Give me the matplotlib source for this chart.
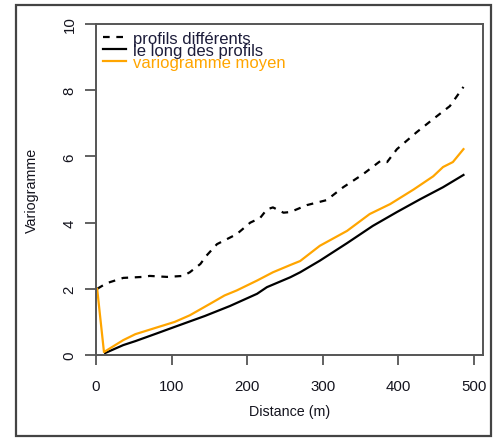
import matplotlib
matplotlib.use("Agg")
import matplotlib.pyplot as plt
from matplotlib.patches import Rectangle

plt.rcParams['font.family'] = ['Liberation Sans', 'DejaVu Sans']

# variogramme entre profils différents (tirets)
dist_diff = [1.5, 14, 36, 62, 71, 94, 115, 124, 138, 146, 160, 173, 186, 204,
             217, 226, 234, 248, 257, 279, 305, 327, 353, 376, 385, 398, 424,
             446, 468, 486]
gam_diff = [2.0, 2.17, 2.33, 2.36, 2.39, 2.36, 2.39, 2.5, 2.75, 3.0, 3.35, 3.5,
            3.65, 4.0, 4.14, 4.4, 4.46, 4.3, 4.32, 4.53, 4.68, 5.07, 5.46, 5.86,
            5.83, 6.22, 6.73, 7.13, 7.52, 8.1]

# variogramme le long des profils
dist_long = [12, 36, 52, 80, 104, 144, 177, 213, 226, 257, 270, 296, 332, 366,
             398, 429, 459, 486]
gam_long = [0.06, 0.3, 0.42, 0.65, 0.85, 1.18, 1.48, 1.85, 2.05, 2.35, 2.5,
            2.85, 3.38, 3.9, 4.32, 4.71, 5.07, 5.44]

# variogramme moyen
dist_moy = [1.5, 10.5, 36, 52, 80, 104, 124, 151, 170, 186, 213, 234, 257, 270,
            296, 332, 362, 389, 420, 446, 459, 472, 486]
gam_moy = [2.0, 0.09, 0.45, 0.63, 0.83, 1.0, 1.2, 1.55, 1.8, 1.95, 2.25, 2.5,
           2.72, 2.84, 3.3, 3.75, 4.26, 4.56, 5.0, 5.4, 5.68, 5.83, 6.22]

xticks = [0, 100, 200, 300, 400, 500]
yticks = [0, 2, 4, 6, 8, 10]

fig = plt.figure(figsize=(4.95, 4.39), dpi=100)
ax = fig.add_axes([0.194, 0.189, 0.782, 0.754])

ax.plot(dist_diff, gam_diff, color='black', lw=1.6, dashes=(3, 3),
        label='profils différents')
ax.plot(dist_long, gam_long, color='black', lw=1.6, label='le long des profils')
ax.plot(dist_moy, gam_moy, color='#FFA500', lw=1.6, label='variogramme moyen')

ax.set_xlim(0, 512)
ax.set_ylim(0, 10)
ax.set_xticks(xticks)
ax.set_yticks(yticks)
ax.tick_params(direction='out', length=7, width=1.3, color='#555555',
               labelsize=10.8, labelcolor='#14141e', pad=10)
ax.tick_params(axis='y', length=8, pad=6)
for lab in ax.get_yticklabels():
    lab.set_rotation(90)
    lab.set_va('center')
for sp in ax.spines.values():
    sp.set_color('#555555')
    sp.set_linewidth(1.4)

ax.set_xlabel('Distance (m)', fontsize=10.3, color='#14141e', labelpad=8)
ax.set_ylabel('Variogramme', fontsize=10.3, color='#14141e', labelpad=17)

leg = ax.legend(loc='upper left', frameon=False, fontsize=12,
                handlelength=1.4, handletextpad=0.4, labelspacing=-0.18,
                borderaxespad=0.1, borderpad=0.3)
for txt, c in zip(leg.get_texts(), ['#1c1c3a', '#1c1c3a', '#FFA500']):
    txt.set_color(c)

# cadre extérieur
fig.patches.append(Rectangle((16 / 495, 1 - 437 / 439), 475 / 495, 431 / 439,
                             transform=fig.transFigure, fill=False,
                             edgecolor='#444444', lw=1.6))

fig.savefig('out.png', dpi=100)
